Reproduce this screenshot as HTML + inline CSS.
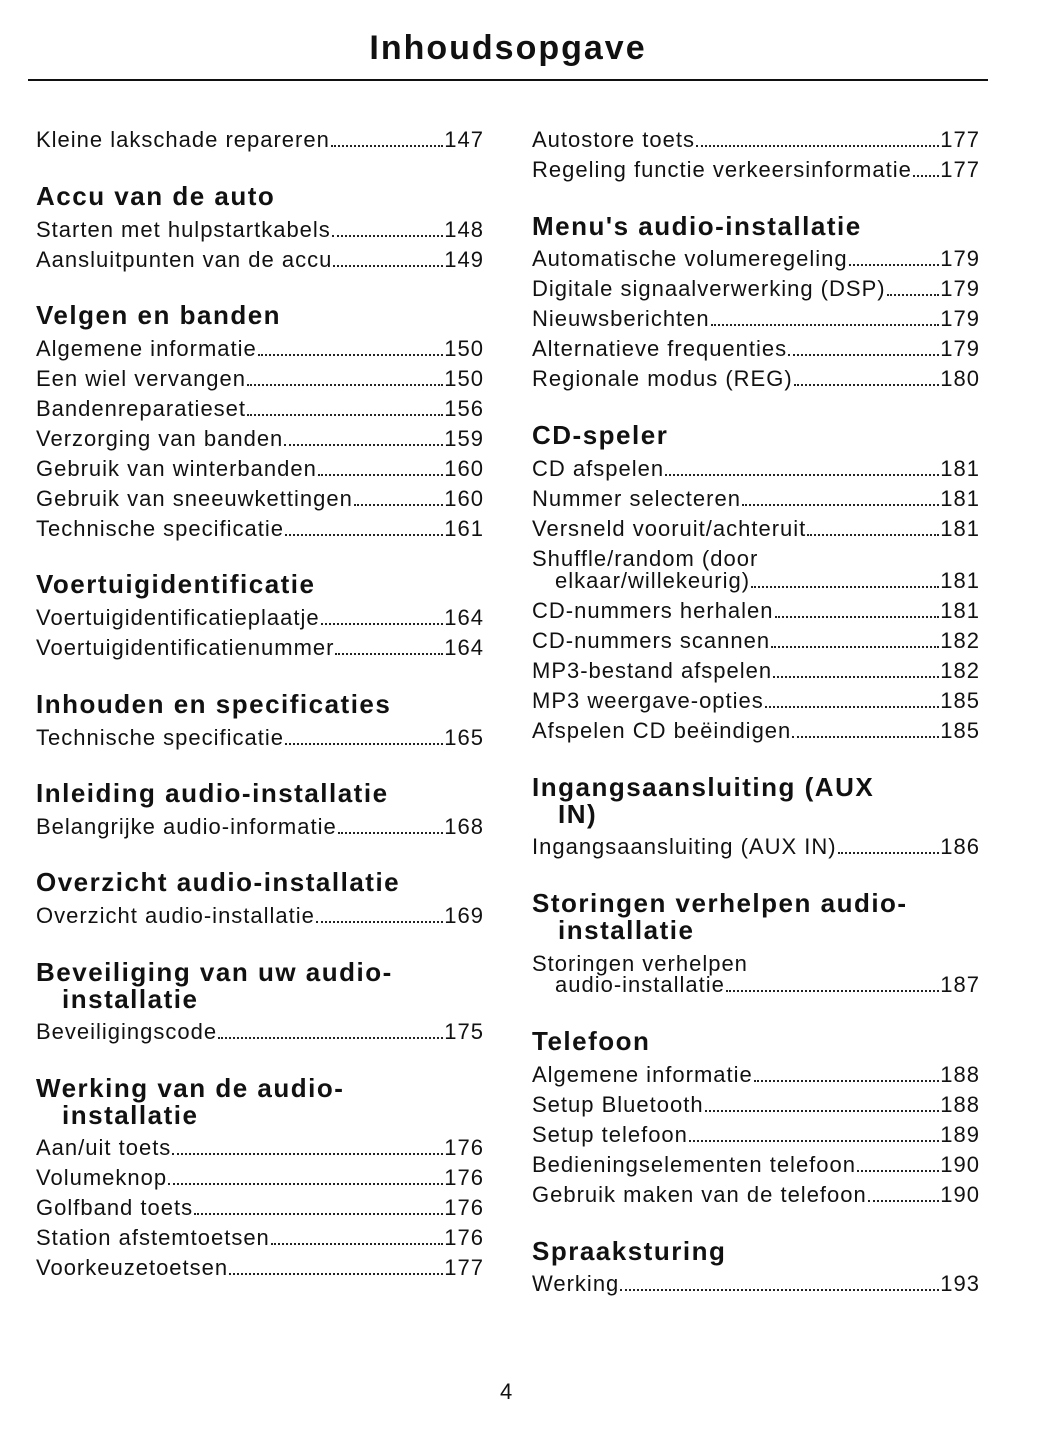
<!DOCTYPE html>
<html><head><meta charset="utf-8"><style>
body{margin:0;width:1048px;height:1449px;background:#fff;position:relative;font-family:"Liberation Sans",sans-serif;color:#111;overflow:hidden}
.h1{position:absolute;top:26px;left:0;width:1016px;text-align:center;font-weight:bold;font-size:34px;line-height:44px;letter-spacing:2px}
.rule{position:absolute;top:79px;left:28px;width:960px;height:2px;background:#111}
.e,.t{position:absolute;height:30px;line-height:30px;font-size:22px;white-space:nowrap;letter-spacing:1px}
.e{display:flex;width:448px}
.e i{flex:1;border-bottom:2px dotted #222;margin:0 1px 8px 1px}
.h{position:absolute;font-weight:900;font-size:26px;line-height:30px;white-space:nowrap;letter-spacing:1.5px}
</style></head><body>
<div class="h1">Inhoudsopgave</div>
<div class="rule"></div>

<div class="e" style="top:125px;left:36px"><span>Kleine lakschade repareren</span><i></i><span>147</span></div>
<div class="h" style="top:181px;left:36px">Accu van de auto</div>
<div class="e" style="top:215px;left:36px"><span>Starten met hulpstartkabels </span><i></i><span>148</span></div>
<div class="e" style="top:245px;left:36px"><span>Aansluitpunten van de accu </span><i></i><span>149</span></div>
<div class="h" style="top:300px;left:36px">Velgen en banden</div>
<div class="e" style="top:334px;left:36px"><span>Algemene informatie</span><i></i><span>150</span></div>
<div class="e" style="top:364px;left:36px"><span>Een wiel vervangen</span><i></i><span>150</span></div>
<div class="e" style="top:394px;left:36px"><span>Bandenreparatieset</span><i></i><span>156</span></div>
<div class="e" style="top:424px;left:36px"><span>Verzorging van banden</span><i></i><span>159</span></div>
<div class="e" style="top:454px;left:36px"><span>Gebruik van winterbanden</span><i></i><span>160</span></div>
<div class="e" style="top:484px;left:36px"><span>Gebruik van sneeuwkettingen</span><i></i><span>160</span></div>
<div class="e" style="top:514px;left:36px"><span>Technische specificatie</span><i></i><span>161</span></div>
<div class="h" style="top:569px;left:36px">Voertuigidentificatie</div>
<div class="e" style="top:603px;left:36px"><span>Voertuigidentificatieplaatje</span><i></i><span>164</span></div>
<div class="e" style="top:633px;left:36px"><span>Voertuigidentificatienummer</span><i></i><span>164</span></div>
<div class="h" style="top:689px;left:36px">Inhouden en specificaties</div>
<div class="e" style="top:723px;left:36px"><span>Technische specificatie</span><i></i><span>165</span></div>
<div class="h" style="top:778px;left:36px">Inleiding audio-installatie</div>
<div class="e" style="top:812px;left:36px"><span>Belangrijke audio-informatie</span><i></i><span>168</span></div>
<div class="h" style="top:867px;left:36px">Overzicht audio-installatie</div>
<div class="e" style="top:901px;left:36px"><span>Overzicht audio-installatie</span><i></i><span>169</span></div>
<div class="h" style="top:957px;left:36px">Beveiliging van uw audio-</div>
<div class="h" style="top:984px;left:62px">installatie</div>
<div class="e" style="top:1017px;left:36px"><span>Beveiligingscode</span><i></i><span>175</span></div>
<div class="h" style="top:1073px;left:36px">Werking van de audio-</div>
<div class="h" style="top:1100px;left:62px">installatie</div>
<div class="e" style="top:1133px;left:36px"><span>Aan/uit toets</span><i></i><span>176</span></div>
<div class="e" style="top:1163px;left:36px"><span>Volumeknop</span><i></i><span>176</span></div>
<div class="e" style="top:1193px;left:36px"><span>Golfband toets</span><i></i><span>176</span></div>
<div class="e" style="top:1223px;left:36px"><span>Station afstemtoetsen</span><i></i><span>176</span></div>
<div class="e" style="top:1253px;left:36px"><span>Voorkeuzetoetsen</span><i></i><span>177</span></div>

<div class="e" style="top:125px;left:532px"><span>Autostore toets</span><i></i><span>177</span></div>
<div class="e" style="top:155px;left:532px"><span>Regeling functie verkeersinformatie</span><i></i><span>177</span></div>
<div class="h" style="top:211px;left:532px">Menu's audio-installatie</div>
<div class="e" style="top:244px;left:532px"><span>Automatische volumeregeling</span><i></i><span>179</span></div>
<div class="e" style="top:274px;left:532px"><span>Digitale signaalverwerking (DSP)</span><i></i><span>179</span></div>
<div class="e" style="top:304px;left:532px"><span>Nieuwsberichten</span><i></i><span>179</span></div>
<div class="e" style="top:334px;left:532px"><span>Alternatieve frequenties</span><i></i><span>179</span></div>
<div class="e" style="top:364px;left:532px"><span>Regionale modus (REG)</span><i></i><span>180</span></div>
<div class="h" style="top:420px;left:532px">CD-speler</div>
<div class="e" style="top:454px;left:532px"><span>CD afspelen</span><i></i><span>181</span></div>
<div class="e" style="top:484px;left:532px"><span>Nummer selecteren</span><i></i><span>181</span></div>
<div class="e" style="top:514px;left:532px"><span>Versneld vooruit/achteruit</span><i></i><span>181</span></div>
<div class="t" style="top:544px;left:532px">Shuffle/random (door</div>
<div class="e" style="top:566px;left:555px;width:425px"><span>elkaar/willekeurig)</span><i></i><span>181</span></div>
<div class="e" style="top:596px;left:532px"><span>CD-nummers herhalen</span><i></i><span>181</span></div>
<div class="e" style="top:626px;left:532px"><span>CD-nummers scannen</span><i></i><span>182</span></div>
<div class="e" style="top:656px;left:532px"><span>MP3-bestand afspelen</span><i></i><span>182</span></div>
<div class="e" style="top:686px;left:532px"><span>MP3 weergave-opties</span><i></i><span>185</span></div>
<div class="e" style="top:716px;left:532px"><span>Afspelen CD beëindigen</span><i></i><span>185</span></div>
<div class="h" style="top:772px;left:532px">Ingangsaansluiting (AUX</div>
<div class="h" style="top:799px;left:558px">IN)</div>
<div class="e" style="top:832px;left:532px"><span>Ingangsaansluiting (AUX IN)</span><i></i><span>186</span></div>
<div class="h" style="top:888px;left:532px">Storingen verhelpen audio-</div>
<div class="h" style="top:915px;left:558px">installatie</div>
<div class="t" style="top:949px;left:532px">Storingen verhelpen</div>
<div class="e" style="top:970px;left:555px;width:425px"><span>audio-installatie</span><i></i><span>187</span></div>
<div class="h" style="top:1026px;left:532px">Telefoon</div>
<div class="e" style="top:1060px;left:532px"><span>Algemene informatie</span><i></i><span>188</span></div>
<div class="e" style="top:1090px;left:532px"><span>Setup Bluetooth</span><i></i><span>188</span></div>
<div class="e" style="top:1120px;left:532px"><span>Setup telefoon</span><i></i><span>189</span></div>
<div class="e" style="top:1150px;left:532px"><span>Bedieningselementen telefoon</span><i></i><span>190</span></div>
<div class="e" style="top:1180px;left:532px"><span>Gebruik maken van de telefoon </span><i></i><span>190</span></div>
<div class="h" style="top:1236px;left:532px">Spraaksturing</div>
<div class="e" style="top:1269px;left:532px"><span>Werking</span><i></i><span>193</span></div>

<div class="t" style="top:1377px;left:500px">4</div>
</body></html>
